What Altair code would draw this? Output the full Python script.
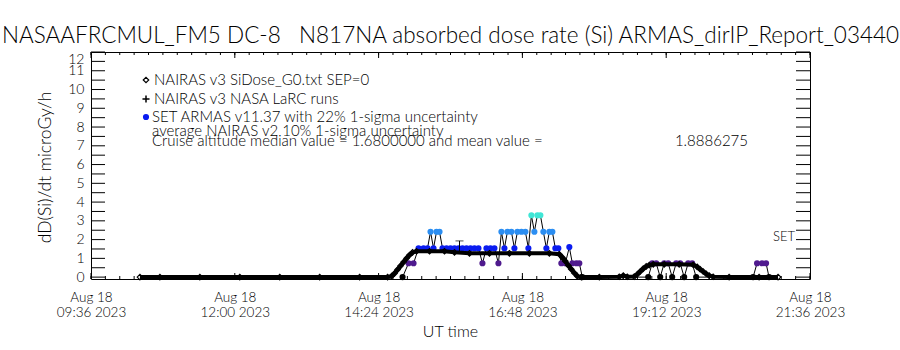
import altair as alt
import pandas as pd

DAY = "2023-08-18"
FONT = "Lato"

title_text = "NASAAFRCMUL_FM5 DC-8\u00a0\u00a0\u00a0N817NA absorbed dose rate (Si) ARMAS_dirIP_Report_03440"
y_title = "dD(Si)/dt microGy/h"
x_title = "UT time"
legend_labels = [
    "NAIRAS v3 SiDose_G0.txt SEP=0",
    "NAIRAS v3 NASA LaRC runs",
    "SET ARMAS v11.37 with 22% 1-sigma uncertainty",
    "average NAIRAS v2 10% 1-sigma uncertainty",
    "Cruise altitude median value = 1.6800000 and mean value =",
]
mean_label = "1.8886275"
set_label = ["SET"]
set_level = [2]

# NAIRAS v3 (diamonds) dose rate
nairas_time = ["10:25", "10:45", "11:25", "12:05", "12:45", "13:25", "14:05", "14:33",
               "14:37", "14:40", "14:43", "14:46", "14:49", "14:52", "14:55", "14:58",
               "15:02", "15:15", "15:30", "15:40", "15:55", "16:15", "16:35", "16:55",
               "17:15", "17:25", "17:28", "17:31", "17:34", "17:37", "17:40", "17:43",
               "17:47", "18:05", "18:25", "18:29", "18:33", "18:40", "18:43", "18:46",
               "18:49", "18:52", "18:55", "18:59", "19:10", "19:25", "19:39", "19:43",
               "19:46", "19:49", "19:52", "19:55", "19:59", "20:15", "20:45", "21:04"]
nairas_dose = [0.0, 0.0, 0.0, 0.0, 0.0, 0.0, 0.0, 0.0,
               0.05, 0.2, 0.4, 0.6, 0.8, 1.0, 1.18, 1.32,
               1.38, 1.38, 1.38, 1.32, 1.27, 1.27, 1.27, 1.27,
               1.27, 1.22, 1.05, 0.85, 0.62, 0.42, 0.22, 0.05,
               0.0, 0.0, 0.02, 0.08, 0.02, 0.03, 0.15, 0.3,
               0.45, 0.57, 0.64, 0.68, 0.68, 0.68, 0.66, 0.55,
               0.42, 0.3, 0.18, 0.08, 0.02, 0.0, 0.0, 0.0]

# SET ARMAS dose rate
armas_time = ["14:48", "14:54", "14:59", "15:04", "15:09", "15:13", "15:16", "15:19",
              "15:22", "15:25", "15:28", "15:32", "15:36", "15:40", "15:44", "15:48",
              "15:52", "15:56", "16:00", "16:04", "16:08", "16:12", "16:16", "16:20",
              "16:24", "16:27", "16:30", "16:33", "16:37", "16:40", "16:43", "16:47",
              "16:51", "16:54", "16:57", "17:00", "17:03", "17:06", "17:09", "17:12",
              "17:15", "17:18", "17:21", "17:24", "17:27", "17:31", "17:35", "17:38",
              "17:42", "17:45", "17:48",
              "18:54", "18:58", "19:02", "19:06", "19:10", "19:14", "19:18", "19:22",
              "19:26", "19:30", "19:34", "19:38", "19:42",
              "20:39", "20:43", "20:48", "20:52", "20:55"]
armas_dose = [0.0, 0.74, 0.74, 1.54, 1.54, 1.54, 2.42, 1.54,
              2.42, 2.42, 1.54, 1.54, 1.54, 1.54, 1.54, 1.54,
              1.54, 1.54, 1.54, 1.54, 0.74, 1.54, 1.54, 1.54,
              0.74, 2.42, 1.54, 2.42, 2.42, 1.54, 2.42, 2.42,
              2.42, 1.54, 3.30, 2.42, 3.30, 3.30, 2.42, 1.54,
              2.42, 2.42, 1.54, 1.54, 0.74, 0.74, 1.60, 0.74,
              0.74, 0.74, 0.0,
              0.0, 0.74, 0.74, 0.0, 0.74, 0.74, 0.0, 0.74,
              0.74, 0.0, 0.74, 0.74, 0.0,
              0.0, 0.74, 0.74, 0.74, 0.0]

# average NAIRAS v2 uncertainty bar
v2_time = ["15:45"]
v2_low = [1.30]
v2_high = [1.93]

y_tick_values = [0, 1, 2, 3, 4, 5, 6, 7, 8, 9, 10, 11, 12]
y_minor_values = [i / 2 for i in range(0, 25)]
x_major_times = ["09:36", "12:00", "14:24", "16:48", "19:12", "21:36"]

armas_levels = [0.3, 1.1, 2.0, 2.9]
armas_colors = ["#000000", "#4f1a8e", "#0a1cf0", "#2b8ef2", "#3fe6d6"]


def iso(hm):
    return f"{DAY}T{hm}:00Z"


W, H = 719, 227

nairas_df = pd.DataFrame({"t": [iso(t) for t in nairas_time], "v": nairas_dose})
armas_df = pd.DataFrame({"t": [iso(t) for t in armas_time], "v": armas_dose})
v2_df = pd.DataFrame({"t": [iso(t) for t in v2_time], "v": v2_low, "v2": v2_high})
v2_caps = pd.DataFrame({"t": [iso(t) for t in v2_time] * 2, "v": v2_low + v2_high})

major_df = pd.DataFrame({"t": [iso(t) for t in x_major_times]})
minor_ts = pd.date_range(pd.Timestamp(f"{DAY} 09:36"), periods=51, freq="864s")
minor_df = pd.DataFrame({"t": [d.strftime("%Y-%m-%dT%H:%M:%SZ") for d in minor_ts]})
ytick_df = pd.DataFrame({"v": y_minor_values})

xscale = alt.Scale(type="utc", domain=[iso("09:36"), iso("21:36")], nice=False)
yscale = alt.Scale(domain=[-0.1, 12], nice=False, zero=False)

xaxis = alt.Axis(
    values=[alt.DateTime(year=2023, month=8, date=18, hours=int(t[:2]), minutes=int(t[3:]), utc=True)
            for t in x_major_times],
    labelExpr="[utcFormat(datum.value, '%b %d'), utcFormat(datum.value, '%H:%M %Y')]",
    domain=False, ticks=False, tickSize=0, grid=False, title=None,
    labelFont=FONT, labelFontSize=13.5, labelFontWeight=300, labelColor="black",
    labelPadding=11, labelLineHeight=15, labelOverlap=False, labelFlush=False,
    labelBaseline="top",
)
yaxis = alt.Axis(
    values=y_tick_values, domain=False, ticks=False, tickSize=0, grid=False, title=None,
    labelFont=FONT, labelFontSize=14, labelFontWeight=300, labelColor="black",
    labelPadding=7, labelFlush=1, labelOverlap=False,
)

X = alt.X("t:T", scale=xscale, axis=xaxis)
Y = alt.Y("v:Q", scale=yscale, axis=yaxis)

armas_line = alt.Chart(armas_df).mark_line(color="black", strokeWidth=1).encode(x=X, y=Y)
armas_pts = alt.Chart(armas_df).mark_point(shape="circle", filled=True, size=38, opacity=1).encode(
    x=X, y=Y,
    color=alt.Color("v:Q", scale=alt.Scale(type="threshold", domain=armas_levels, range=armas_colors),
                    legend=None),
)
nairas_line = alt.Chart(nairas_df).mark_line(color="black", strokeWidth=4).encode(x=X, y=Y)
nairas_pts = alt.Chart(nairas_df).mark_point(shape="diamond", filled=False, color="black",
                                             size=30, strokeWidth=1.2, opacity=1).encode(x=X, y=Y)
v2_rule = alt.Chart(v2_df).mark_rule(color="black", strokeWidth=1).encode(x=X, y=Y, y2="v2:Q")
v2_cap = alt.Chart(v2_caps).mark_tick(orient="horizontal", size=8, thickness=1, color="black").encode(x=X, y=Y)

yt_left = alt.Chart(ytick_df).mark_rule(color="black", strokeWidth=1).encode(
    y=Y, x=alt.value(0), x2=alt.value(14))
yt_right = alt.Chart(ytick_df).mark_rule(color="black", strokeWidth=1).encode(
    y=Y, x=alt.value(W - 14), x2=alt.value(W))
xt_major_b = alt.Chart(major_df).mark_rule(color="black", strokeWidth=1).encode(
    x=X, y=alt.value(H), y2=alt.value(H - 6))
xt_major_t = alt.Chart(major_df).mark_rule(color="black", strokeWidth=1).encode(
    x=X, y=alt.value(0), y2=alt.value(6))
xt_minor_b = alt.Chart(minor_df).mark_rule(color="black", strokeWidth=1).encode(
    x=X, y=alt.value(H), y2=alt.value(H - 3))
xt_minor_t = alt.Chart(minor_df).mark_rule(color="black", strokeWidth=1).encode(
    x=X, y=alt.value(0), y2=alt.value(3))

one = pd.DataFrame({"a": [0]})


def label(text, x, y, size, align="left", angle=0):
    return alt.Chart(one).mark_text(
        text=text, font=FONT, fontSize=size, fontWeight=300, color="black",
        align=align, baseline="middle", angle=angle,
    ).encode(x=alt.value(x), y=alt.value(y))


title = label(title_text, W / 2, -16, 22.5, align="center")
ytitle = label(y_title, -45, H / 2 + 2, 17.5, align="center", angle=270)
xtitle = label(x_title, W / 2, 280, 16, align="center")

leg_y = [28, 47, 65, 79, 89]
leg_x = [63, 63, 61, 61, 61]
legend_texts = [label(legend_labels[i], leg_x[i], leg_y[i], 15) for i in range(5)]
mean_text = label(mean_label, 657, leg_y[4], 15, align="right")
sym_diamond = alt.Chart(one).mark_point(shape="diamond", filled=False, color="black", size=30,
                                        strokeWidth=1.2, opacity=1).encode(
    x=alt.value(55), y=alt.value(leg_y[0]))
sym_plus = alt.Chart(one).mark_point(shape="M-1,0H1M0,-1V1", filled=False, color="black", size=50,
                                     strokeWidth=1.5, opacity=1).encode(
    x=alt.value(55), y=alt.value(leg_y[1]))
sym_dot = alt.Chart(one).mark_point(shape="circle", filled=True, color=armas_colors[2], size=38,
                                    opacity=1).encode(
    x=alt.value(55), y=alt.value(leg_y[2]))

set_df = pd.DataFrame({"v": set_level, "label": set_label})
set_text = alt.Chart(set_df).mark_text(font=FONT, fontSize=13, fontWeight=300, color="black",
                                       align="right", baseline="alphabetic", dy=1).encode(
    y=Y, x=alt.value(W - 15), text="label:N")

chart = alt.layer(
    armas_line, armas_pts, nairas_line, nairas_pts, v2_rule, v2_cap,
    yt_left, yt_right, xt_major_b, xt_major_t, xt_minor_b, xt_minor_t,
    title, ytitle, xtitle, *legend_texts, mean_text, sym_diamond, sym_plus, sym_dot, set_text,
).properties(
    width=W, height=H,
    padding={"left": 91, "top": 52, "right": 90, "bottom": 71},
    autosize=alt.AutoSizeParams(type="none"),
    background="white",
).configure_view(stroke="black", strokeWidth=1)

chart.save("out.html", embed_options={"renderer": "svg", "actions": False})
